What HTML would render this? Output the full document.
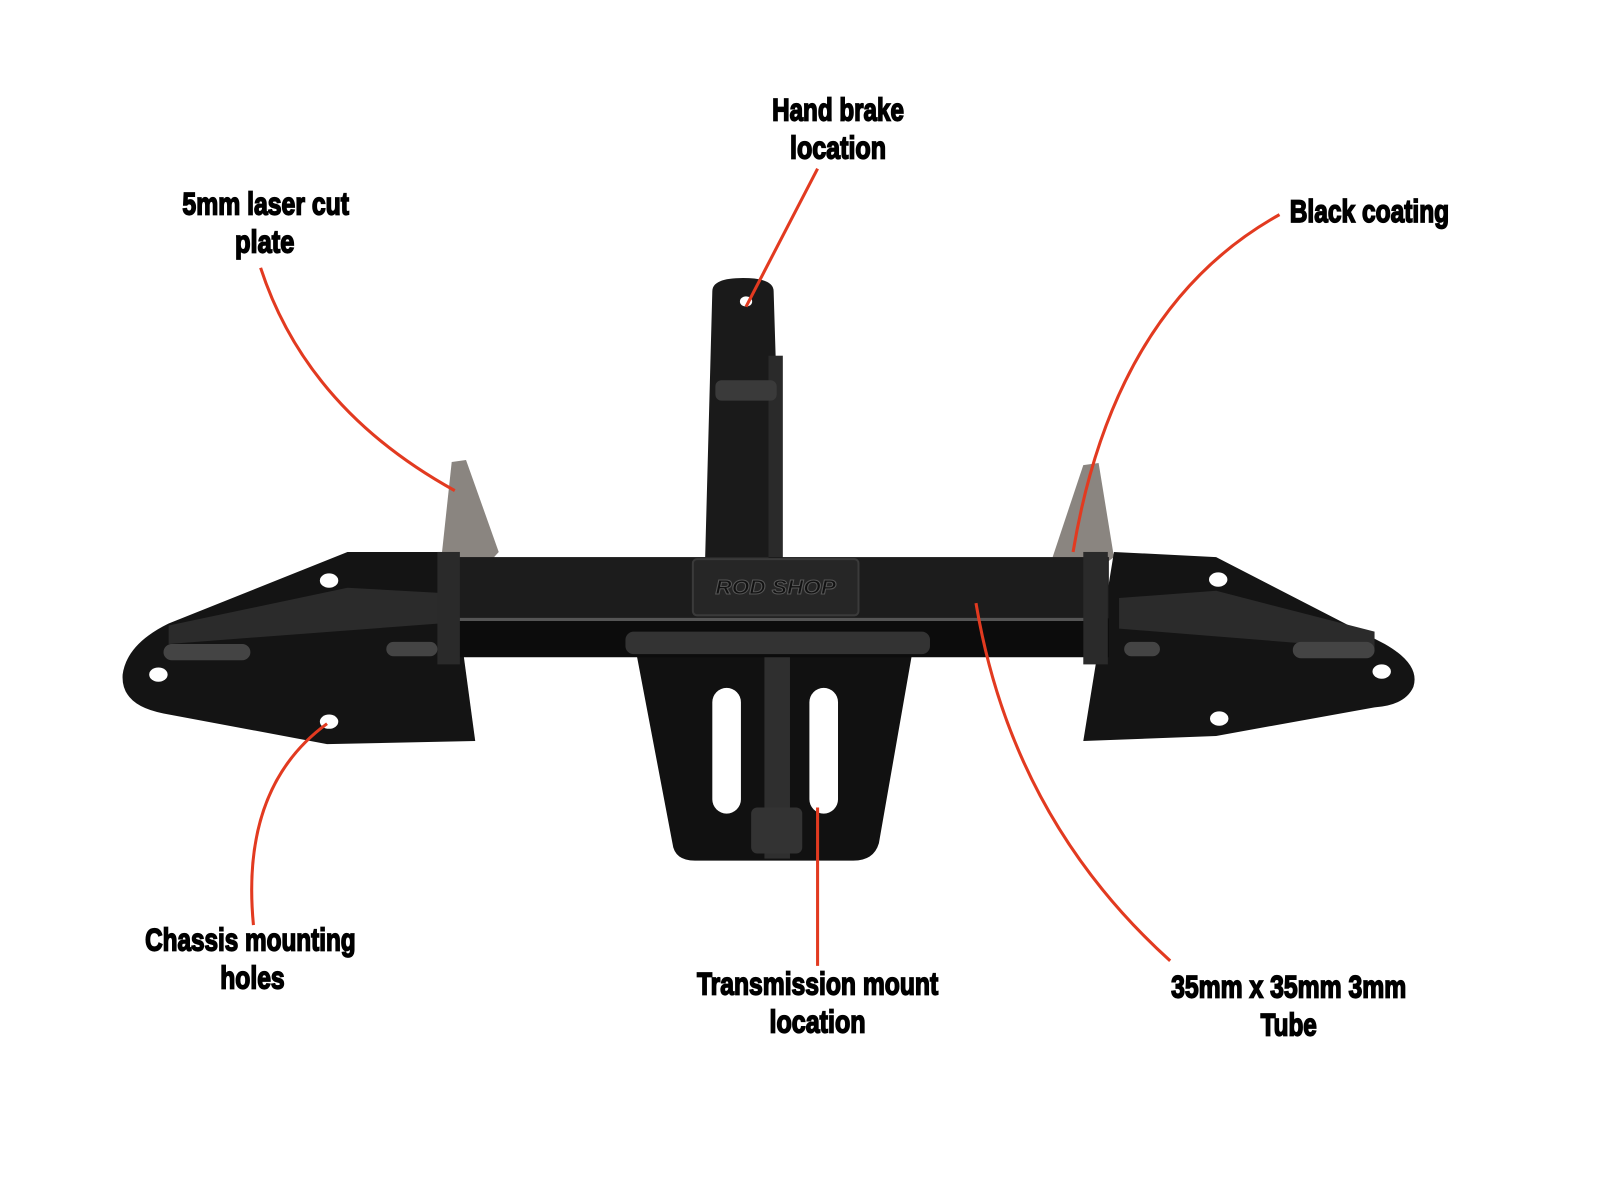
<!DOCTYPE html>
<html><head><meta charset="utf-8"><style>
html,body{margin:0;padding:0;background:#fff;width:1600px;height:1200px;overflow:hidden}
svg{display:block}
text{font-family:"Liberation Sans Narrow","Liberation Sans",sans-serif;font-weight:bold;font-size:31px;fill:#000;stroke:#000;stroke-width:1.6px;text-anchor:middle}
</style></head><body>
<svg width="1600" height="1200" viewBox="0 0 1565.6 1174" preserveAspectRatio="none">
<rect width="1566" height="1174" fill="#fff"/>
<polygon points="442,452 456,450 488,540 470,560 432,545" fill="#8a8580"/>
<polygon points="1060,455 1075,453 1090,545 1070,560 1030,545" fill="#8a8580"/>
<path d="M697,285 Q697,272 727,272 Q757,272 757,285 L765,545 L690,545 Z" fill="#1a1a1a"/>
<rect x="752" y="348" width="14" height="200" fill="#2a2a2a"/>
<ellipse cx="730" cy="295" rx="6" ry="5" fill="#fff"/>
<rect x="700" y="372" width="60" height="20" rx="6" fill="#3a3a3a"/>
<path d="M340,540 L440,540 L465,725 L320,728 L160,698 Q118,690 120,660 Q124,630 165,610 Z" fill="#141414"/>
<path d="M165,612 L340,575 L430,580 L430,610 L165,630 Z" fill="#2b2b2b"/>
<path d="M1090,540 L1190,545 L1355,630 Q1390,650 1383,672 Q1375,690 1345,692 L1190,720 L1060,725 Z" fill="#141414"/>
<path d="M1095,585 L1190,578 L1345,618 L1345,635 L1095,615 Z" fill="#2b2b2b"/>
<path d="M620,625 L895,625 L860,825 Q855,842 835,842 L680,842 Q660,842 658,825 Z" fill="#111"/>
<rect x="697" y="673" width="28" height="123" rx="14" fill="#fff"/>
<rect x="792" y="673" width="28" height="123" rx="14" fill="#fff"/>
<rect x="748" y="610" width="25" height="230" fill="#2f2f2f"/>
<rect x="435" y="545" width="650" height="62" fill="#1c1c1c"/>
<rect x="435" y="605" width="650" height="38" fill="#0c0c0c"/>
<line x1="440" y1="606" x2="1080" y2="606" stroke="#555" stroke-width="3"/>
<rect x="428" y="540" width="22" height="110" fill="#2a2a2a"/>
<rect x="1060" y="540" width="24" height="110" fill="#2a2a2a"/>
<rect x="612" y="618" width="298" height="22" rx="8" fill="#333"/>
<rect x="160" y="630" width="85" height="16" rx="8" fill="#444"/>
<rect x="378" y="628" width="50" height="14" rx="7" fill="#444"/>
<rect x="1100" y="628" width="35" height="14" rx="7" fill="#444"/>
<rect x="1265" y="628" width="80" height="16" rx="8" fill="#444"/>
<rect x="735" y="790" width="50" height="45" rx="6" fill="#333"/>
<rect x="678" y="547" width="162" height="55" rx="4" fill="#262626" stroke="#3a3a3a" stroke-width="2"/>
<text x="759" y="581" textLength="118" lengthAdjust="spacingAndGlyphs" style="font-size:20px;fill:#111;stroke:#555;stroke-width:1px;font-style:italic">ROD SHOP</text>
<ellipse cx="322" cy="568" rx="9" ry="7" fill="#fff"/>
<ellipse cx="155" cy="660" rx="9" ry="7" fill="#fff"/>
<ellipse cx="322" cy="706" rx="9" ry="7" fill="#fff"/>
<ellipse cx="1192" cy="567" rx="9" ry="7" fill="#fff"/>
<ellipse cx="1352" cy="657" rx="9" ry="7" fill="#fff"/>
<ellipse cx="1193" cy="703" rx="9" ry="7" fill="#fff"/>
<g fill="none" stroke="#e23a20" stroke-width="3">
<path d="M255,262 Q300,400 445,480"/>
<path d="M800,165 L730,300"/>
<path d="M1252,210 Q1090,300 1050,540"/>
<path d="M320,708 Q235,770 248,905"/>
<path d="M800,790 L800,945"/>
<path d="M955,590 Q990,800 1145,940"/>
</g>
<text x="260" y="210" textLength="163" lengthAdjust="spacingAndGlyphs">5mm laser cut</text>
<text x="259" y="247" textLength="58" lengthAdjust="spacingAndGlyphs">plate</text>
<text x="820" y="118" textLength="129" lengthAdjust="spacingAndGlyphs">Hand brake</text>
<text x="820" y="155" textLength="94" lengthAdjust="spacingAndGlyphs">location</text>
<text x="1340" y="217" textLength="156" lengthAdjust="spacingAndGlyphs">Black coating</text>
<text x="245" y="930" textLength="206" lengthAdjust="spacingAndGlyphs">Chassis mounting</text>
<text x="247" y="967" textLength="63" lengthAdjust="spacingAndGlyphs">holes</text>
<text x="800" y="973" textLength="236" lengthAdjust="spacingAndGlyphs">Transmission mount</text>
<text x="800" y="1010" textLength="94" lengthAdjust="spacingAndGlyphs">location</text>
<text x="1261" y="976" textLength="230" lengthAdjust="spacingAndGlyphs">35mm x 35mm 3mm</text>
<text x="1261" y="1013" textLength="55" lengthAdjust="spacingAndGlyphs">Tube</text>
</svg>
</body></html>
